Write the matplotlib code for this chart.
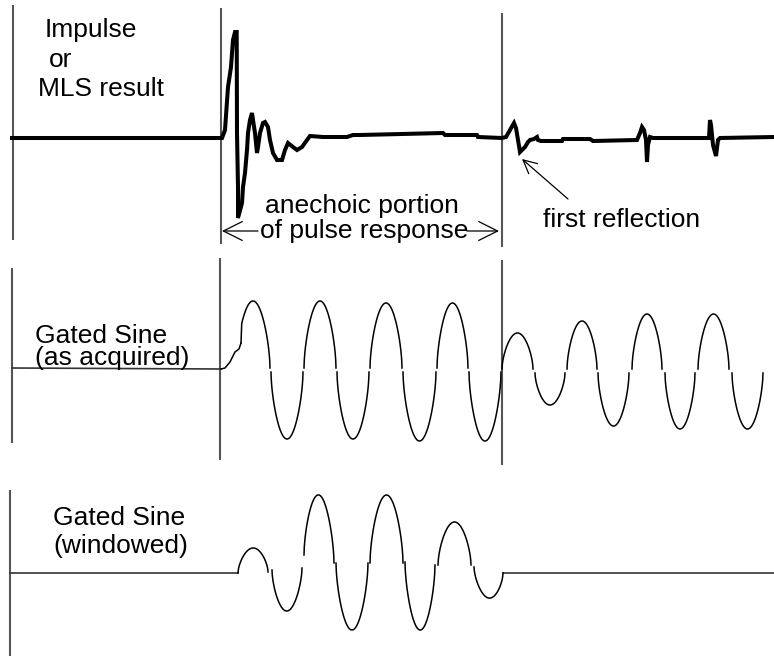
import numpy as np
import matplotlib
matplotlib.use("Agg")
import matplotlib.pyplot as plt

plt.rcParams['font.family'] = ['Liberation Sans', 'DejaVu Sans']

# ---------------- data (pixel units) ----------------
# Top trace: impulse / MLS result
impulse_x = [12, 222, 225, 228, 231, 233, 235, 236.7, 237, 238, 238, 242, 243, 245, 247, 248, 250, 252,
             253, 255, 257, 258, 260, 263, 265, 268, 270, 273, 277, 282, 285, 288, 293, 297, 302, 307,
             310, 323, 347, 353, 360, 443, 445, 477, 478, 502, 506, 510, 514, 516, 518, 520, 522, 525,
             528, 530, 534, 537, 538, 541, 562, 563, 590, 593, 637, 640, 642, 644, 646, 647, 648, 650,
             653, 709, 710, 711, 713, 716, 718, 720, 774]
impulse_y = [138, 138, 130, 87, 67, 40, 32, 32, 133, 187, 218, 203, 187, 173, 150, 133, 120, 113,
             120, 133, 153, 147, 133, 123, 122, 127, 140, 153, 160, 160, 150, 143, 147, 150, 147, 140,
             136, 137, 137, 135, 135, 133, 135, 135, 137, 138, 137, 130, 123, 128, 140, 152, 150, 147,
             142, 140, 139, 137, 140, 141, 141, 139, 139, 141, 140, 133, 127, 130, 140, 162, 145, 137,
             138, 138, 120, 125, 145, 156, 140, 138, 137]

# Middle trace: gated sine as acquired -- onset then half-cycle lobes
onset_x = [12, 221, 225, 230, 235, 239, 241]
onset_y = [368, 369, 368, 362, 352, 349, 343]
acq_x0 = [236, 271, 304, 337, 370, 403, 437, 469, 502, 535, 567, 598, 632, 665, 698, 732]
acq_x1 = [270, 303, 336, 369, 402, 436, 468, 501, 533, 565, 597, 629, 662, 695, 729, 763]
acq_y0 = [368, 372, 368, 372, 368, 372, 368, 372, 369, 373, 369, 373, 369, 373, 369, 373]
acq_y1 = [368, 372, 368, 372, 368, 372, 368, 372, 369, 373, 369, 373, 369, 373, 369, 373]
acq_pk = [301, 439, 301, 439, 303, 441, 303, 441, 333, 405, 321, 426, 314, 429, 314, 429]

# Bottom trace: gated sine windowed
win_x0 = [238, 272, 304, 336, 370, 405, 438, 474]
win_x1 = [268, 302, 334, 368, 403, 435, 471, 503]
win_y0 = [573, 570, 555, 563, 563, 562, 565, 567]
win_y1 = [572, 568, 563, 563, 563, 565, 565, 573]
win_pk = [548, 611, 495, 630, 495, 630, 522, 598]
win_base_x = [[10, 238], [503, 774]]
win_base_y = 573

# Vertical marker lines: x, top, bottom
vline_x = [13, 221, 502, 12, 220, 502, 10]
vline_top = [5, 8, 13, 268, 258, 260, 490]
vline_bot = [240, 244, 247, 443, 460, 465, 656]

# Labels: text, x, baseline y
label_text = ["Impulse", "or", "MLS result", "anechoic portion", "of pulse response",
              "first reflection", "Gated Sine", "(as acquired)", "Gated Sine", "(windowed)"]
label_x = [45, 49, 38, 265, 260, 543, 35, 35, 53, 53]
label_y = [37, 67, 96, 213, 238, 227, 343, 365, 525, 553]

# ---------------- drawing ----------------
fig = plt.figure(figsize=(7.74, 6.56), dpi=100)
ax = fig.add_axes([0, 0, 1, 1])
ax.set_xlim(0, 774)
ax.set_ylim(656, 0)
ax.axis('off')

gray = '#555555'
for x, t, b in zip(vline_x, vline_top, vline_bot):
    ax.plot([x, x], [t, b], color=gray, lw=1.5, solid_capstyle='butt')

ax.plot(impulse_x, impulse_y, color='black', lw=2.9, solid_joinstyle='miter')


def lobe(x0, x1, y0, y1, pk, xmin=None):
    t = np.linspace(0, 1, 120)
    x = x0 + (x1 - x0) * t
    amp = pk - (y0 + y1) / 2
    y = y0 + (y1 - y0) * t + amp * np.clip(np.sin(np.pi * t), 0, 1) ** 0.6
    if xmin is not None:
        m = x >= xmin
        x, y = x[m], y[m]
    return x, y


ax.plot(onset_x[:2], onset_y[:2], color='#333333', lw=1.2)
ax.plot(onset_x[1:], onset_y[1:], color='black', lw=1.1)
for i, (a, b, c, d, p) in enumerate(zip(acq_x0, acq_x1, acq_y0, acq_y1, acq_pk)):
    x, y = lobe(a, b, c, d, p, xmin=241.5 if i == 0 else None)
    if i == 0:
        x = np.concatenate([[onset_x[-1]], x])
        y = np.concatenate([[onset_y[-1]], y])
    ax.plot(x, y, color='black', lw=1.1)

for xs in win_base_x:
    ax.plot(xs, [win_base_y, win_base_y], color='#333333', lw=1.2)
for a, b, c, d, p in zip(win_x0, win_x1, win_y0, win_y1, win_pk):
    x, y = lobe(a, b, c, d, p)
    ax.plot(x, y, color='black', lw=1.1)

for s, x, y in zip(label_text, label_x, label_y):
    ax.text(x, y, s, fontsize=19, ha='left', va='baseline', color='black')

# arrows
arrow_kw = dict(arrowstyle='->', color='black', lw=0.9, mutation_scale=24, shrinkA=0, shrinkB=0)
big_kw = dict(arrow_kw, mutation_scale=34)
ax.annotate('', xy=(522, 159), xytext=(568, 199), arrowprops=arrow_kw)
ax.annotate('', xy=(222, 231), xytext=(258, 231), arrowprops=big_kw)
ax.annotate('', xy=(499, 231), xytext=(467, 231), arrowprops=big_kw)

fig.savefig('out.png', dpi=100)
